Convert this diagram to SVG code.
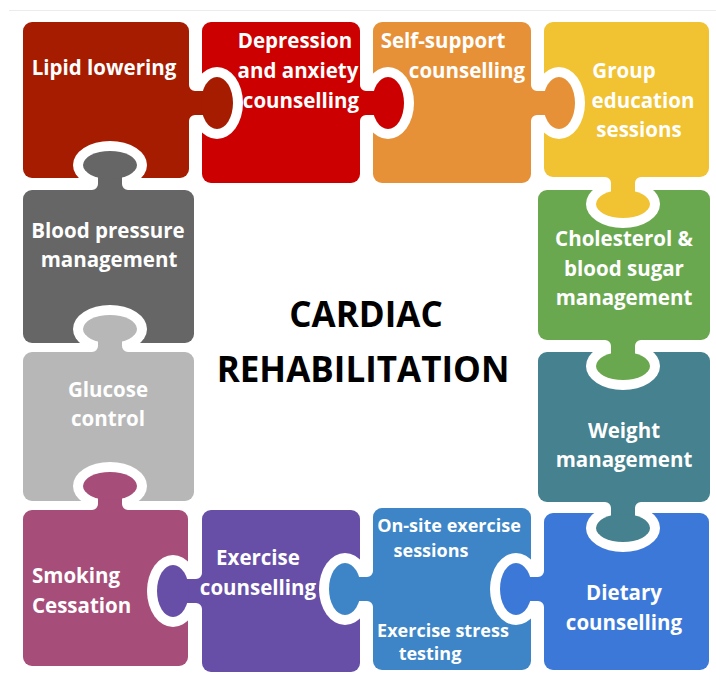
<svg xmlns="http://www.w3.org/2000/svg" width="716" height="684" viewBox="0 0 716 684">
<style>
.t{font-family:"Open Sans","Liberation Sans",sans-serif;font-weight:700;font-size:20.5px;fill:#fff;text-anchor:middle}
.s{font-size:18px}
.st{text-anchor:start}
.title{fill:#000;font-size:35px}
</style>
<defs>
<mask id="m-lipid" maskUnits="userSpaceOnUse" x="0" y="0" width="716" height="684"><rect width="716" height="684" fill="#fff"/><ellipse cx="110" cy="165" rx="37" ry="24" fill="#000"/></mask>
<mask id="m-dep" maskUnits="userSpaceOnUse" x="0" y="0" width="716" height="684"><rect width="716" height="684" fill="#fff"/><ellipse cx="217" cy="103" rx="26" ry="36" fill="#000"/></mask>
<mask id="m-self" maskUnits="userSpaceOnUse" x="0" y="0" width="716" height="684"><rect width="716" height="684" fill="#fff"/><ellipse cx="388" cy="103" rx="26" ry="36" fill="#000"/></mask>
<mask id="m-group" maskUnits="userSpaceOnUse" x="0" y="0" width="716" height="684"><rect width="716" height="684" fill="#fff"/><ellipse cx="559" cy="103" rx="26" ry="36" fill="#000"/></mask>
<mask id="m-chol" maskUnits="userSpaceOnUse" x="0" y="0" width="716" height="684"><rect width="716" height="684" fill="#fff"/><ellipse cx="623" cy="204" rx="37" ry="24" fill="#000"/></mask>
<mask id="m-weight" maskUnits="userSpaceOnUse" x="0" y="0" width="716" height="684"><rect width="716" height="684" fill="#fff"/><ellipse cx="623" cy="366" rx="37" ry="24" fill="#000"/></mask>
<mask id="m-diet" maskUnits="userSpaceOnUse" x="0" y="0" width="716" height="684"><rect width="716" height="684" fill="#fff"/><ellipse cx="623" cy="528" rx="37" ry="24" fill="#000"/></mask>
<mask id="m-onsite" maskUnits="userSpaceOnUse" x="0" y="0" width="716" height="684"><rect width="716" height="684" fill="#fff"/><ellipse cx="516" cy="589" rx="26" ry="36" fill="#000"/></mask>
<mask id="m-exer" maskUnits="userSpaceOnUse" x="0" y="0" width="716" height="684"><rect width="716" height="684" fill="#fff"/><ellipse cx="345" cy="589" rx="26" ry="36" fill="#000"/></mask>
<mask id="m-smoke" maskUnits="userSpaceOnUse" x="0" y="0" width="716" height="684"><rect width="716" height="684" fill="#fff"/><ellipse cx="173" cy="591" rx="26" ry="36" fill="#000"/></mask>
<mask id="m-gluc" maskUnits="userSpaceOnUse" x="0" y="0" width="716" height="684"><rect width="716" height="684" fill="#fff"/><ellipse cx="110" cy="486" rx="37" ry="24" fill="#000"/></mask>
<mask id="m-bp" maskUnits="userSpaceOnUse" x="0" y="0" width="716" height="684"><rect width="716" height="684" fill="#fff"/><ellipse cx="110" cy="329" rx="37" ry="24" fill="#000"/></mask>
</defs>
<rect width="716" height="684" fill="#fff"/>
<line x1="9" y1="10.5" x2="716" y2="10.5" stroke="#ececec" stroke-width="1"/>

<g id="lipid">
<g mask="url(#m-lipid)" fill="#A61C00">
<rect x="23" y="22" width="166" height="156" rx="9"/>
<path d="M188,85 L189,85 A6 6 0 0 0 195,91 L217,91 L217,115 L195,115 A6 6 0 0 0 189,121 L188,121 Z"/>
<ellipse cx="217" cy="103" rx="16" ry="26"/>
</g>
<text class="t" x="104" y="75">Lipid lowering</text>
</g>

<g id="depression">
<g mask="url(#m-dep)" fill="#CC0000">
<rect x="202" y="22" width="158" height="161" rx="9"/>
<path d="M359,85 L360,85 A6 6 0 0 0 366,91 L388,91 L388,115 L366,115 A6 6 0 0 0 360,121 L359,121 Z"/>
<ellipse cx="388" cy="103" rx="16" ry="26"/>
</g>
<text class="t" x="295" y="48">Depression</text>
<text class="t" x="298" y="78">and anxiety</text>
<text class="t" x="301" y="108">counselling</text>
</g>

<g id="self-support">
<g mask="url(#m-self)" fill="#E69138">
<rect x="373" y="22" width="158" height="161" rx="9"/>
<path d="M530,85 L531,85 A6 6 0 0 0 537,91 L559,91 L559,115 L537,115 A6 6 0 0 0 531,121 L530,121 Z"/>
<ellipse cx="559" cy="103" rx="16" ry="26"/>
</g>
<text class="t" x="443" y="48">Self-support</text>
<text class="t" x="467" y="78">counselling</text>
</g>

<g id="group-education">
<g mask="url(#m-group)" fill="#F1C232">
<rect x="544" y="22" width="165" height="155" rx="9"/>
<path d="M605,176 L605,177 A6 6 0 0 1 611,183 L611,204 L635,204 L635,183 A6 6 0 0 1 641,177 L641,176 Z"/>
<ellipse cx="623" cy="204" rx="27" ry="14"/>
</g>
<text class="t" x="624" y="78">Group</text>
<text class="t" x="643" y="108">education</text>
<text class="t" x="639" y="137">sessions</text>
</g>

<g id="cholesterol">
<g mask="url(#m-chol)" fill="#6AA84F">
<rect x="538" y="190" width="172" height="150" rx="9"/>
<path d="M605,339 L605,340 A6 6 0 0 1 611,346 L611,366 L635,366 L635,346 A6 6 0 0 1 641,340 L641,339 Z"/>
<ellipse cx="623" cy="366" rx="27" ry="14"/>
</g>
<text class="t" x="624" y="246">Cholesterol &amp;</text>
<text class="t" x="624" y="276">blood sugar</text>
<text class="t" x="624" y="305">management</text>
</g>

<g id="weight">
<g mask="url(#m-weight)" fill="#45818E">
<rect x="538" y="352" width="172" height="150" rx="9"/>
<path d="M605,501 L605,502 A6 6 0 0 1 611,508 L611,528 L635,528 L635,508 A6 6 0 0 1 641,502 L641,501 Z"/>
<ellipse cx="623" cy="528" rx="27" ry="14"/>
</g>
<text class="t" x="624" y="438">Weight</text>
<text class="t" x="624" y="467">management</text>
</g>

<g id="dietary">
<g mask="url(#m-diet)" fill="#3C78D8">
<rect x="544" y="513" width="165" height="157" rx="9"/>
<path d="M545,571 L544,571 A6 6 0 0 1 538,577 L516,577 L516,601 L538,601 A6 6 0 0 1 544,607 L545,607 Z"/>
<ellipse cx="516" cy="589" rx="16" ry="26"/>
</g>
<text class="t" x="624" y="600">Dietary</text>
<text class="t" x="624" y="630">counselling</text>
</g>

<g id="onsite-exercise">
<g mask="url(#m-onsite)" fill="#3D85C6">
<rect x="373" y="508" width="158" height="162" rx="9"/>
<path d="M374,571 L373,571 A6 6 0 0 1 367,577 L345,577 L345,601 L367,601 A6 6 0 0 1 373,607 L374,607 Z"/>
<ellipse cx="345" cy="589" rx="16" ry="26"/>
</g>
<text class="t s" x="449" y="532">On-site exercise</text>
<text class="t s" x="431" y="557">sessions</text>
<text class="t s" x="443" y="637">Exercise stress</text>
<text class="t s" x="430" y="660">testing</text>
</g>

<g id="exercise-counselling">
<g mask="url(#m-exer)" fill="#674EA7">
<rect x="202" y="510" width="158" height="162" rx="9"/>
<path d="M203,573 L202,573 A6 6 0 0 1 196,579 L173,579 L173,603 L196,603 A6 6 0 0 1 202,609 L203,609 Z"/>
<ellipse cx="173" cy="591" rx="16" ry="26"/>
</g>
<text class="t" x="258" y="565">Exercise</text>
<text class="t" x="258" y="595">counselling</text>
</g>

<g id="smoking">
<g mask="url(#m-smoke)" fill="#A64D79">
<rect x="23" y="510" width="165" height="156" rx="9"/>
<path d="M92,511 L92,510 A6 6 0 0 0 98,504 L98,486 L122,486 L122,504 A6 6 0 0 0 128,510 L128,511 Z"/>
<ellipse cx="110" cy="486" rx="27" ry="14"/>
</g>
<text class="t st" x="32" y="583">Smoking</text>
<text class="t st" x="32" y="613">Cessation</text>
</g>

<g id="glucose">
<g mask="url(#m-gluc)" fill="#B7B7B7">
<rect x="23" y="352" width="171" height="149" rx="9"/>
<path d="M92,353 L92,352 A6 6 0 0 0 98,346 L98,329 L122,329 L122,346 A6 6 0 0 0 128,352 L128,353 Z"/>
<ellipse cx="110" cy="329" rx="27" ry="14"/>
</g>
<text class="t" x="108" y="397">Glucose</text>
<text class="t" x="108" y="426">control</text>
</g>

<g id="blood-pressure">
<g mask="url(#m-bp)" fill="#666666">
<rect x="23" y="190" width="171" height="153" rx="9"/>
<path d="M92,191 L92,190 A6 6 0 0 0 98,184 L98,165 L122,165 L122,184 A6 6 0 0 0 128,190 L128,191 Z"/>
<ellipse cx="110" cy="165" rx="27" ry="14"/>
</g>
<text class="t" x="108" y="238">Blood pressure</text>
<text class="t" x="109" y="267">management</text>
</g>

<g id="title">
<text class="t title" x="366" y="327">CARDIAC</text>
<text class="t title" x="363" y="382">REHABILITATION</text>
</g>
</svg>
